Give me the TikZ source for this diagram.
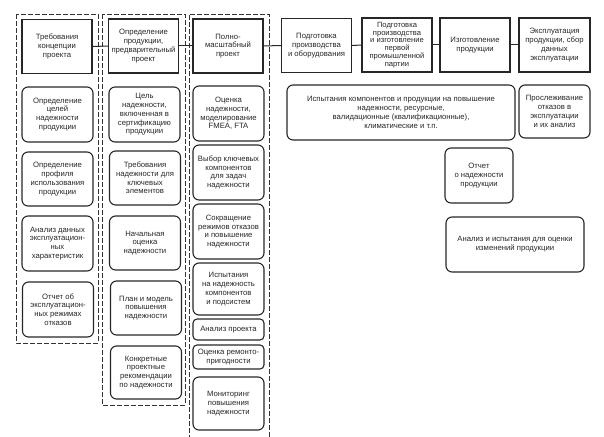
\documentclass[tikz,border=0pt]{standalone}
\usepackage{fontspec}
\setmainfont{Liberation Sans}
\begin{document}
\begin{tikzpicture}[x=1pt,y=-1pt,
  every node/.style={font=\fontsize{7.7}{8.8}\selectfont, align=center, inner sep=0pt, text=black!85},
  sbox/.style={draw=black!85, line width=1.1pt, minimum width=70pt, minimum height=54pt},
  rbox/.style={draw=black!85, line width=1.1pt, rounded corners=6pt, minimum width=71pt, minimum height=55pt},
  grp/.style={draw=black!80, line width=0.9pt, dash pattern=on 5pt off 2pt},
  conn/.style={draw=black!85, line width=1pt}]
\useasboundingbox (0,0) rectangle (604,436);
% dashed groups
\draw[grp] (16,14) rectangle (98,343);
\draw[grp] (102,14) rectangle (185,405);
\draw[grp] (189,440) -- (189,14) -- (269,14) -- (269,440);
% top boxes
\node[sbox] (A) at (57,46.5) {Требования\\концепции\\проекта};
\node[sbox] (B) at (143.5,46) {Определение\\продукции,\\предварительный\\проект};
\node[sbox] (C) at (228,46) {Полно-\\масштабный\\проект};
\node[sbox] (D) at (316.5,45.5) {Подготовка\\производства\\и оборудования};
\node[sbox, font=\fontsize{7.6}{7.8}\selectfont] (E) at (397,45) {Подготовка\\производства\\и изготовление\\первой\\промышленной\\партии};
\node[sbox] (F) at (475,45) {Изготовление\\продукции};
\node[sbox, minimum width=71pt] (G) at (554.5,45) {Эксплуатация\\продукции, сбор\\данных\\эксплуатации};
\draw[conn] (A.east) -- (B.west);
\draw[conn] (B.east) -- (C.west);
\draw[conn] (C.east) -- (D.west);
\draw[conn] (D.east) -- (E.west);
\draw[conn] (E.east) -- (F.west);
\draw[conn] (F.east) -- (G.west);
% column 1
\node[rbox] (c1a) at (57.5,114.5) {Определение\\целей\\надежности\\продукции};
\node[rbox, minimum height=54pt] (c1b) at (57.5,179) {Определение\\профиля\\использования\\продукции};
\node[rbox] (c1c) at (57.5,243.5) {Анализ данных\\эксплуатацион-\\ных\\характеристик};
\node[rbox] (c1d) at (58,309.5) {Отчет об\\эксплуатацион-\\ных режимах\\отказов};
% column 2
\node[rbox] (c2a) at (144.5,114.5) {Цель\\надежности,\\включенная в\\сертификацию\\продукции};
\node[rbox, minimum height=54pt] (c2b) at (145,178) {Требования\\надежности для\\ключевых\\элементов};
\node[rbox, minimum height=54pt] (c2c) at (145,243) {Начальная\\оценка\\надежности};
\node[rbox, minimum height=54pt] (c2d) at (146,308) {План и модель\\повышения\\надежности};
\node[rbox, minimum height=53pt] (c2e) at (146,372.5) {Конкретные\\проектные\\рекомендации\\по надежности};
% column 3
\node[rbox] (c3a) at (228.5,113.5) {Оценка\\надежности,\\моделирование\\FMEA, FTA};
\node[rbox] (c3b) at (228.5,172.5) {Выбор ключевых\\компонентов\\для задач\\надежности};
\node[rbox] (c3c) at (228.5,231.5) {Сокращение\\режимов отказов\\и повышение\\надежности};
\node[rbox, minimum height=52pt] (c3d) at (228.5,289) {Испытания\\на надежность\\компонентов\\и подсистем};
\node[rbox, minimum height=21pt, rounded corners=4pt] (c3e) at (228.5,329.5) {Анализ проекта};
\node[rbox, minimum height=24pt, rounded corners=4pt] (c3f) at (228.5,357) {Оценка ремонто-\\пригодности};
\node[rbox, minimum height=53pt] (c3g) at (228.5,403.5) {Мониторинг\\повышения\\надежности};
% right side
\node[rbox, minimum width=228pt] (r1) at (401,112.5) {Испытания компонентов и продукции на повышение\\надежности, ресурсные,\\валидационные (квалификационные),\\климатические и т.п.};
\node[rbox, minimum height=53pt] (r2) at (554.5,111.5) {Прослеживание\\отказов в\\эксплуатации\\и их анализ};
\node[rbox, minimum width=68pt] (r3) at (479,175.5) {Отчет\\о надежности\\продукции};
\node[rbox, minimum width=138pt] (r4) at (515,244.5) {Анализ и испытания для оценки\\изменений продукции};
\end{tikzpicture}
\end{document}
